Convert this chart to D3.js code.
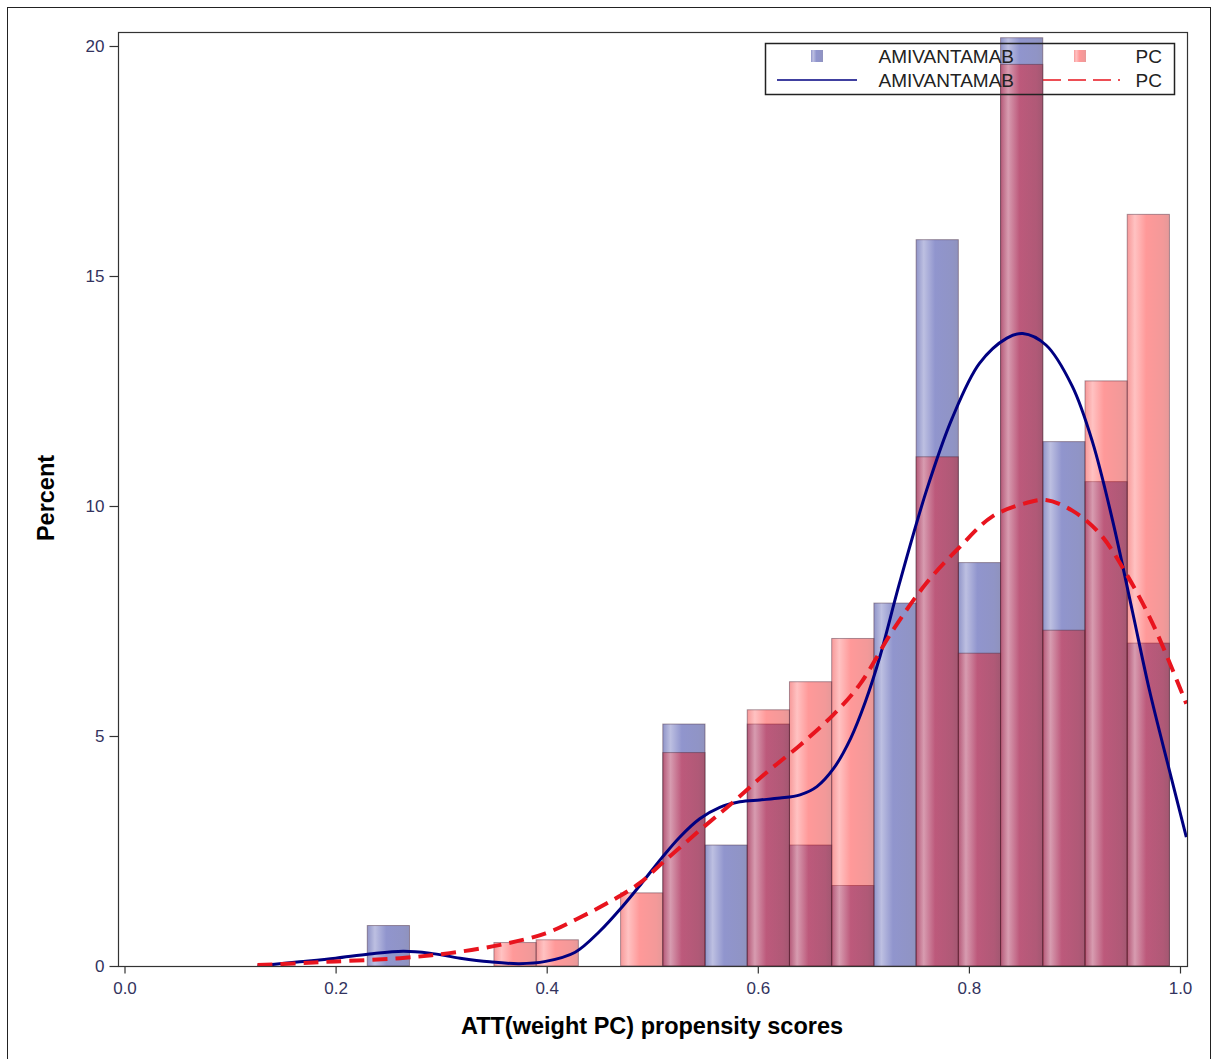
<!DOCTYPE html>
<html>
<head>
<meta charset="utf-8">
<script src="https://cdn.jsdelivr.net/npm/d3@7"></script>
<style>
    body { margin: 0; background: #fff; }
</style>
</head>
<body>
<div id="chart"></div>
<script>
// histogram bins (midpoints, width 0.04)
var binMids = [0.25, 0.29, 0.33, 0.37, 0.41, 0.45, 0.49, 0.53, 0.57, 0.61, 0.65, 0.69, 0.73, 0.77, 0.81, 0.85, 0.89, 0.93, 0.97];
var amiPercent = [0.88, 0, 0, 0, 0, 0, 0, 5.26, 2.63, 5.26, 2.63, 1.75, 7.89, 15.79, 8.77, 20.18, 11.40, 10.53, 7.02];
var pcPercent = [0, 0, 0, 0.51, 0.57, 0, 1.59, 4.64, 0, 5.57, 6.18, 7.12, 0, 11.07, 6.80, 19.60, 7.30, 12.72, 16.34];

// kernel density curves
var amiDensX = [0.126, 0.166, 0.200, 0.232, 0.264, 0.289, 0.318, 0.346, 0.374, 0.399, 0.427, 0.450, 0.472, 0.490, 0.509, 0.526, 0.545, 0.564, 0.583, 0.602, 0.621, 0.640, 0.656, 0.672, 0.688, 0.702, 0.716, 0.734, 0.760, 0.784, 0.810, 0.836, 0.851, 0.873, 0.898, 0.917, 0.936, 0.955, 0.971, 0.990, 1.006];
var amiDensY = [0.0, 0.09, 0.17, 0.26, 0.32, 0.28, 0.17, 0.09, 0.05, 0.10, 0.30, 0.75, 1.30, 1.80, 2.35, 2.80, 3.20, 3.45, 3.57, 3.61, 3.65, 3.72, 3.90, 4.30, 4.95, 5.75, 6.75, 8.30, 10.35, 11.90, 13.10, 13.65, 13.75, 13.50, 12.60, 11.40, 9.70, 7.70, 6.00, 4.25, 2.80];
var pcDensX = [0.126, 0.166, 0.200, 0.261, 0.308, 0.356, 0.399, 0.431, 0.460, 0.488, 0.510, 0.545, 0.576, 0.608, 0.640, 0.671, 0.696, 0.728, 0.760, 0.791, 0.822, 0.855, 0.873, 0.898, 0.924, 0.949, 0.974, 1.006];
var pcDensY = [0.02, 0.06, 0.10, 0.17, 0.28, 0.46, 0.71, 1.05, 1.40, 1.80, 2.25, 2.95, 3.55, 4.20, 4.80, 5.45, 6.10, 7.30, 8.33, 9.10, 9.77, 10.07, 10.13, 9.90, 9.40, 8.53, 7.45, 5.70];

var xTicks = [0, 0.2, 0.4, 0.6, 0.8, 1.0];
var yTicks = [0, 5, 10, 15, 20];
var groups = ["AMIVANTAMAB", "PC"];

var W = 1212, H = 1059;
var plot = { left: 118, right: 1187, top: 32, bottom: 966 };
var binWidth = 0.04;
var font = "'Liberation Sans', Arial, sans-serif";

var svg = d3.select("#chart")
    .append("svg")
    .attr("width", W)
    .attr("height", H);

var x = d3.scaleLinear().domain([0, 1]).range([124.5, 1180]);
var y = d3.scaleLinear().domain([0, 20]).range([966, 46]);

var defs = svg.append("defs");

defs.append("clipPath")
    .attr("id", "plot-clip")
    .append("rect")
    .attr("x", plot.left)
    .attr("y", plot.top)
    .attr("width", plot.right - plot.left)
    .attr("height", plot.bottom - plot.top);

// sheen gradient for each group (light band on the left, darker right edge)
function makeGradient(id, base) {
    var toWhite = d3.interpolateRgb(base, "#fff"),
        toBlack = d3.interpolateRgb(base, "#000");
    var grad = defs.append("linearGradient")
        .attr("id", id)
        .attr("x1", "0%").attr("x2", "100%")
        .attr("y1", "0%").attr("y2", "0%");
    var stops = [
        [0, toBlack(0.08)],
        [0.18, toWhite(0.4)],
        [0.45, base],
        [0.85, toBlack(0.12)],
        [1, toBlack(0.25)]
    ];
    stops.forEach(function(s) {
        grad.append("stop")
            .attr("offset", (s[0] * 100) + "%")
            .style("stop-color", s[1]);
    });
}
makeGradient("grad-ami", "rgb(10,20,145)");
makeGradient("grad-pc", "rgb(255,0,0)");

// outer frame
svg.append("rect")
    .attr("x", 7.5).attr("y", 7.5)
    .attr("width", 1203).attr("height", 1070)
    .attr("fill", "none")
    .attr("stroke", "#222")
    .attr("stroke-width", 1);

var g = svg.append("g").attr("clip-path", "url(#plot-clip)");

function drawBars(values, gradId, opacity) {
    g.append("g")
        .selectAll("rect")
        .data(binMids.map(function(m, i) { return { mid: m, v: values[i] }; })
            .filter(function(d) { return d.v > 0; }))
        .enter().append("rect")
        .attr("x", function(d) { return x(d.mid - binWidth / 2); })
        .attr("width", function(d) { return x(d.mid + binWidth / 2) - x(d.mid - binWidth / 2); })
        .attr("y", function(d) { return y(d.v); })
        .attr("height", function(d) { return y(0) - y(d.v); })
        .attr("fill", "url(#" + gradId + ")")
        .attr("fill-opacity", opacity)
        .attr("stroke", "rgba(70,40,60,0.45)")
        .attr("stroke-width", 1);
}
drawBars(amiPercent, "grad-ami", 0.45);
drawBars(pcPercent, "grad-pc", 0.4);

var line = d3.line()
    .x(function(d) { return x(d[0]); })
    .y(function(d) { return y(d[1]); })
    .curve(d3.curveCatmullRom.alpha(0.5));

g.append("path")
    .datum(amiDensX.map(function(v, i) { return [v, amiDensY[i]]; }))
    .attr("d", line)
    .attr("fill", "none")
    .attr("stroke", "#000080")
    .attr("stroke-width", 3);

g.append("path")
    .datum(pcDensX.map(function(v, i) { return [v, pcDensY[i]]; }))
    .attr("d", line)
    .attr("fill", "none")
    .attr("stroke", "#e8141e")
    .attr("stroke-width", 4)
    .attr("stroke-dasharray", "15,8");

// plot frame
svg.append("rect")
    .attr("x", plot.left + 0.5).attr("y", plot.top + 0.5)
    .attr("width", plot.right - plot.left).attr("height", plot.bottom - plot.top)
    .attr("fill", "none")
    .attr("stroke", "#333")
    .attr("stroke-width", 1.2);

// axes
var xAxis = svg.append("g")
    .attr("transform", "translate(0," + (plot.bottom + 0.5) + ")")
    .call(d3.axisBottom(x).tickValues(xTicks).tickFormat(d3.format(".1f")).tickSizeOuter(0).tickSize(7).tickPadding(8));
xAxis.select(".domain").remove();

var yAxis = svg.append("g")
    .attr("transform", "translate(" + (plot.left + 0.5) + ",0)")
    .call(d3.axisLeft(y).tickValues(yTicks).tickSizeOuter(0).tickSize(9).tickPadding(5));
yAxis.select(".domain").remove();

svg.selectAll(".tick line").attr("stroke", "#333").attr("stroke-width", 1.2);
svg.selectAll(".tick text")
    .attr("fill", "#33335e")
    .attr("font-family", font)
    .attr("font-size", "17px");

// axis titles
svg.append("text")
    .attr("x", 652)
    .attr("y", 1034)
    .attr("text-anchor", "middle")
    .attr("font-family", font)
    .attr("font-weight", "bold")
    .attr("font-size", "23.5px")
    .attr("fill", "#000")
    .text("ATT(weight PC) propensity scores");

svg.append("text")
    .attr("transform", "translate(54,498) rotate(-90)")
    .attr("text-anchor", "middle")
    .attr("font-family", font)
    .attr("font-weight", "bold")
    .attr("font-size", "23.5px")
    .attr("fill", "#000")
    .text("Percent");

// legend
var legend = svg.append("g");
legend.append("rect")
    .attr("x", 765.5).attr("y", 43.5)
    .attr("width", 409).attr("height", 51)
    .attr("fill", "none")
    .attr("stroke", "#222")
    .attr("stroke-width", 1.5);

var legendRows = [
    { y: 56, kind: "box", items: [{ sx: 817, tx: 1014, grad: "grad-ami", op: 0.45, label: groups[0] }, { sx: 1080, tx: 1162, grad: "grad-pc", op: 0.4, label: groups[1] }] },
    { y: 80, kind: "line", items: [{ l0: 777, l1: 857, tx: 1014, color: "#000080", dash: null, label: groups[0] }, { l0: 1043, l1: 1120, tx: 1162, color: "#e8141e", dash: "18,7", label: groups[1] }] }
];

legendRows.forEach(function(row) {
    row.items.forEach(function(it) {
        if (row.kind === "box") {
            legend.append("rect")
                .attr("x", it.sx - 6).attr("y", row.y - 6)
                .attr("width", 12).attr("height", 12)
                .attr("fill", "url(#" + it.grad + ")")
                .attr("fill-opacity", it.op);
        } else {
            legend.append("line")
                .attr("x1", it.l0).attr("x2", it.l1)
                .attr("y1", row.y).attr("y2", row.y)
                .attr("stroke", it.color)
                .attr("stroke-width", 1.5)
                .attr("stroke-dasharray", it.dash);
        }
        legend.append("text")
            .attr("x", it.tx)
            .attr("y", row.y + 7)
            .attr("text-anchor", "end")
            .attr("font-family", font)
            .attr("font-size", "19px")
            .attr("fill", "#222")
            .text(it.label);
    });
});
</script>
</body>
</html>
